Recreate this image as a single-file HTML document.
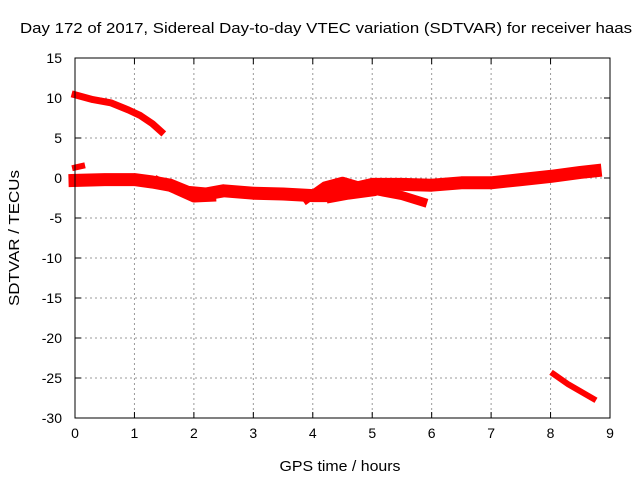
<!DOCTYPE html>
<html><head><meta charset="utf-8"><style>
body{margin:0;background:#fff;}
svg{display:block;font-family:"Liberation Sans",sans-serif;}
</style></head><body>
<svg id="chart" width="640" height="480">
<text x="326" y="33" font-size="15" text-anchor="middle" textLength="612" lengthAdjust="spacingAndGlyphs">Day 172 of 2017, Sidereal Day-to-day VTEC variation (SDTVAR) for receiver haas</text>
<text x="340" y="471" font-size="15" text-anchor="middle" textLength="121" lengthAdjust="spacingAndGlyphs">GPS time / hours</text>
<text transform="translate(19,238) rotate(-90)" font-size="15" text-anchor="middle" textLength="136" lengthAdjust="spacingAndGlyphs">SDTVAR / TECUs</text>
<g id="grid"></g><g id="ticks"></g><g id="marks"></g>
<rect x="75" y="58" width="535" height="360" fill="none" stroke="#000" stroke-width="1"/>
</svg>
<script>
const xTicks=[0,1,2,3,4,5,6,7,8,9];
const yTicks=[15,10,5,0,-5,-10,-15,-20,-25,-30];
const arcHigh=[[0,10.4],[0.3,9.8],[0.6,9.4],[0.9,8.5],[1.1,7.8],[1.3,6.8],[1.45,5.8]];
const arcSmall=[[0,1.3],[0.12,1.5]];
const mainBand=[[0,-0.3],[0.5,-0.2],[1,-0.2],[1.3,-0.5],[1.6,-0.9],[1.9,-1.8],[2.2,-2.0],[2.5,-1.6],[3,-1.9],[3.5,-2.0],[4,-2.2],[4.3,-2.2],[4.6,-1.5],[5,-0.8],[5.5,-0.8],[6,-0.9],[6.5,-0.6],[7,-0.6],[7.5,-0.2],[8,0.2],[8.5,0.7],[8.75,0.9]];
const sideBand1=[[1.4,-0.4],[1.7,-1.5],[2,-2.5],[2.3,-2.4]];
const sideBand2=[[3.9,-2.6],[4.2,-1.0],[4.5,-0.4],[5,-1.5],[5.5,-2.2],[5.85,-3.0]];
const sideBand3=[[4.3,-2.6],[4.6,-2.2],[5,-1.8]];
const arcLow=[[8.05,-24.5],[8.3,-25.8],[8.72,-27.6]];
const X0=75,X1=610,Y0=58,Y1=418,xMin=0,xMax=9,yMin=-30,yMax=15;
const sx=v=>X0+(v-xMin)/(xMax-xMin)*(X1-X0);
const sy=v=>Y1-(v-yMin)/(yMax-yMin)*(Y1-Y0);
const NS="http://www.w3.org/2000/svg";
function mk(t,a,p){const e=document.createElementNS(NS,t);for(const k in a)e.setAttribute(k,a[k]);p.appendChild(e);return e;}
const grid=document.getElementById('grid'),ticks=document.getElementById('ticks'),marks=document.getElementById('marks');
xTicks.forEach(v=>{const x=sx(v);
 if(v>xMin&&v<xMax){const g=mk('line',{x1:x,x2:x,y1:Y0,y2:Y1,stroke:'#999','stroke-dasharray':'2,3'},grid);
 
 }
 mk('line',{x1:x,x2:x,y1:Y1,y2:Y1-6,stroke:'#000'},ticks);mk('line',{x1:x,x2:x,y1:Y0,y2:Y0+6,stroke:'#000'},ticks);
 const t=mk('text',{x:x,y:Y1+20,'font-size':14,'text-anchor':'middle'},ticks);t.textContent=v;
 
 });
yTicks.forEach(v=>{const y=sy(v);
 if(v>yMin&&v<yMax){const g=mk('line',{x1:X0,x2:X1,y1:y,y2:y,stroke:'#999','stroke-dasharray':'2,3'},grid);
 
 }
 mk('line',{x1:X0,x2:X0+6,y1:y,y2:y,stroke:'#000'},ticks);mk('line',{x1:X1,x2:X1-6,y1:y,y2:y,stroke:'#000'},ticks);
 const t=mk('text',{x:X0-13,y:y+5,'font-size':14,'text-anchor':'end'},ticks);t.textContent=v;
 
 });
function band(pts,w,name){
 const d=pts.map((p,i)=>(i?'L':'M')+sx(p[0]).toFixed(1)+' '+sy(p[1]).toFixed(1)).join(' ');
 const e=mk('path',{d:d,fill:'none',stroke:'#f00','stroke-width':w,'stroke-linejoin':'round','stroke-linecap':'square'},marks);
 
 
}
band(arcHigh,7,'series-arc-high');
band(arcSmall,6,'series-arc-small');
band(mainBand,13,'series-main-band');
band(sideBand1,9,'series-side-band-1');
band(sideBand2,9,'series-side-band-2');
band(sideBand3,8,'series-side-band-3');
band(arcLow,6,'series-arc-low');
</script>
</body></html>
